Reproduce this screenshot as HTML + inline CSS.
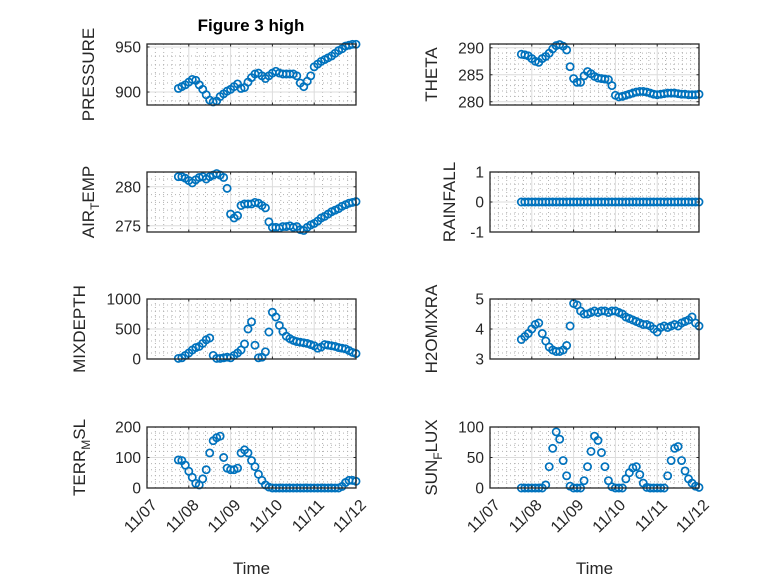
<!DOCTYPE html>
<html><head><meta charset="utf-8"><style>
html,body{margin:0;padding:0;background:#fff;}
svg{display:block;font-family:"Liberation Sans",sans-serif;}
</style></head><body>
<svg id="fig" width="778" height="583" viewBox="0 0 778 583" xmlns="http://www.w3.org/2000/svg">
<rect width="778" height="583" fill="#fff"/>
<text x="251" y="31" text-anchor="middle" font-size="17" font-weight="bold" fill="#000">Figure 3 high</text>
</svg>
<script>
const xTickLabels = ["11/07","11/08","11/09","11/10","11/11","11/12"];
const pressure = [904,906,908,911,914,913,908,903,897,891,889,890,895,898,901,903,906,909,904,905,911,916,920,921,918,915,918,921,923,921,920,920,920,920,918,910,906,912,918,928,931,934,936,938,940,943,946,948,951,952,953,953];
const theta = [288.8,288.7,288.5,288.0,287.5,287.3,288.0,288.4,289.0,289.8,290.4,290.6,290.3,289.6,286.5,284.3,283.6,283.6,284.8,285.6,285.2,284.7,284.4,284.3,284.2,284.1,283.0,281.2,280.9,281.0,281.2,281.4,281.6,281.8,281.9,281.9,281.8,281.6,281.4,281.3,281.4,281.5,281.6,281.6,281.6,281.5,281.4,281.4,281.3,281.3,281.3,281.4];
const airTemp = [281.3,281.3,281.1,280.8,280.5,280.9,281.2,281.3,281.0,281.3,281.5,281.7,281.5,281.2,279.8,276.5,276.0,276.3,277.6,277.8,277.8,277.8,278.0,277.9,277.6,277.3,275.5,274.8,274.8,274.7,274.9,274.9,275.0,274.8,274.9,274.5,274.4,274.8,275.1,275.3,275.6,276.0,276.2,276.5,276.8,277.0,277.2,277.5,277.7,277.9,278.0,278.1];
const rainfall = [0,0,0,0,0,0,0,0,0,0,0,0,0,0,0,0,0,0,0,0,0,0,0,0,0,0,0,0,0,0,0,0,0,0,0,0,0,0,0,0,0,0,0,0,0,0,0,0,0,0,0,0];
const mixDepth = [10,20,60,100,150,190,210,260,320,350,60,10,10,20,30,20,60,100,150,250,500,620,230,20,30,120,450,780,700,560,460,380,340,310,290,280,270,260,240,220,180,200,240,230,220,210,190,180,170,140,110,90];
const h2oMix = [3.65,3.75,3.85,4.0,4.15,4.2,3.85,3.6,3.4,3.3,3.25,3.25,3.3,3.45,4.1,4.85,4.8,4.6,4.5,4.5,4.55,4.6,4.55,4.6,4.6,4.55,4.6,4.6,4.55,4.5,4.4,4.35,4.3,4.25,4.2,4.15,4.15,4.1,4.0,3.9,4.05,4.1,4.05,4.1,4.15,4.1,4.2,4.25,4.3,4.4,4.2,4.1];
const terrMsl = [92,90,75,55,35,15,10,30,60,115,155,165,170,100,65,60,60,65,115,125,115,90,70,45,25,10,3,0,0,0,0,0,0,0,0,0,0,0,0,0,0,0,0,0,0,0,0,5,18,25,25,22];
const sunFlux = [0,0,0,0,0,0,0,5,35,65,92,80,45,20,3,0,0,0,12,35,60,85,78,58,35,12,2,0,0,0,15,25,33,35,22,8,1,0,0,0,0,0,20,45,65,68,45,28,15,8,3,1];
const startDay = 0.75, stepDay = 2/24;

const NS="http://www.w3.org/2000/svg";
const svg=document.getElementById('fig');
function mk(tag,attrs,parent){const e=document.createElementNS(NS,tag);for(const k in attrs)e.setAttribute(k,attrs[k]);(parent||svg).appendChild(e);return e;}

const panels=[
 {name:'pressure',data:pressure,x0:147,x1:356,y0:44,y1:105,ymin:885.6,ymax:953.3,ticks:[900,950],minor:10,label:[['PRESSURE']],lx:94},
 {name:'theta',data:theta,x0:490,x1:699,y0:44,y1:105,ymin:279.4,ymax:290.7,ticks:[280,285,290],minor:1,label:[['THETA']],lx:437},
 {name:'air-temp',data:airTemp,x0:147,x1:356,y0:172,y1:232,ymin:274.2,ymax:281.9,ticks:[275,280],minor:1,label:[['AIR'],['T','sub'],['EMP']],lx:94},
 {name:'rainfall',data:rainfall,x0:490,x1:699,y0:172,y1:232,ymin:-1,ymax:1,ticks:[-1,0,1],minor:0.2,label:[['RAINFALL']],lx:455},
 {name:'mixdepth',data:mixDepth,x0:147,x1:356,y0:299,y1:359,ymin:0,ymax:1000,ticks:[0,500,1000],minor:100,label:[['MIXDEPTH']],lx:85},
 {name:'h2omixra',data:h2oMix,x0:490,x1:699,y0:299,y1:359,ymin:3,ymax:5,ticks:[3,4,5],minor:0.2,label:[['H2OMIXRA']],lx:437},
 {name:'terr-msl',data:terrMsl,x0:147,x1:356,y0:427,y1:488,ymin:0,ymax:200,ticks:[0,100,200],minor:20,label:[['TERR'],['M','sub'],['SL']],lx:85},
 {name:'sun-flux',data:sunFlux,x0:490,x1:699,y0:427,y1:488,ymin:0,ymax:100,ticks:[0,50,100],minor:10,label:[['SUN'],['F','sub'],['LUX']],lx:437}
];

panels.forEach((p,pi)=>{
 const g=mk('g',{});
 
 
 const xs=d=>p.x0+(d/5)*(p.x1-p.x0);
 const ys=v=>p.y1-(v-p.ymin)/(p.ymax-p.ymin)*(p.y1-p.y0);
 for(let k=1;k<25;k++){ if(k%5===0)continue; const x=xs(k*0.2);
  mk('line',{x1:x,x2:x,y1:p.y0,y2:p.y1,stroke:'#b0b0b0','stroke-width':1,'stroke-dasharray':'1 3'},g);}
 const m0=Math.ceil(p.ymin/p.minor);
 for(let k=m0;k*p.minor<=p.ymax;k++){const v=k*p.minor; if(p.ticks.some(t=>Math.abs(t-v)<1e-6))continue; const y=ys(v);
  mk('line',{x1:p.x0,x2:p.x1,y1:y,y2:y,stroke:'#b0b0b0','stroke-width':1,'stroke-dasharray':'1 3'},g);}
 for(let d=1;d<5;d++){const x=xs(d);mk('line',{x1:x,x2:x,y1:p.y0,y2:p.y1,stroke:'#dcdcdc','stroke-width':1},g);}
 p.ticks.forEach(t=>{const y=ys(t);mk('line',{x1:p.x0,x2:p.x1,y1:y,y2:y,stroke:'#dcdcdc','stroke-width':1},g);});
 p.data.forEach((v,i)=>{
  const c=mk('circle',{cx:xs(startDay+i*stepDay),cy:ys(v),r:3.6,fill:'none',stroke:'#0072BD','stroke-width':1.7},g);
  
  
 });
 mk('rect',{x:p.x0,y:p.y0,width:p.x1-p.x0,height:p.y1-p.y0,fill:'none',stroke:'#262626','stroke-width':1.3},g);
 for(let d=0;d<=5;d++){const x=xs(d);
  mk('line',{x1:x,x2:x,y1:p.y1,y2:p.y1-2.5,stroke:'#262626'},g);
  mk('line',{x1:x,x2:x,y1:p.y0,y2:p.y0+2.5,stroke:'#262626'},g);}
 p.ticks.forEach(t=>{const y=ys(t);
  mk('line',{x1:p.x0,x2:p.x0+2.5,y1:y,y2:y,stroke:'#262626'},g);
  mk('line',{x1:p.x1,x2:p.x1-2.5,y1:y,y2:y,stroke:'#262626'},g);
  const tl=mk('text',{x:p.x0-6,y:y+5.5,'text-anchor':'end','font-size':15.5,fill:'#262626'},g);
  tl.textContent=String(t);
  
  
 });
 const cy=(p.y0+p.y1)/2;
 const yl=mk('text',{x:0,y:0,'text-anchor':'middle','font-size':17,fill:'#262626',transform:`translate(${p.lx},${cy}) rotate(-90)`},g);
 
 
 p.label.forEach(part=>{const ts=mk('tspan',{},yl);ts.textContent=part[0];
  if(part[1]==='sub'){ts.setAttribute('font-size','12');ts.setAttribute('dy','5');}
  else if(yl.childNodes.length>1){ts.setAttribute('dy','-5');}
 });
 if(pi>=6){
  xTickLabels.forEach((s,d)=>{const x=xs(d);
   const t=mk('text',{x:0,y:0,'text-anchor':'end','font-size':16,fill:'#262626',transform:`translate(${x+11},${p.y1+18}) rotate(-45)`},g);
   t.textContent=s;
   
   
  });
  const xt=mk('text',{x:(p.x0+p.x1)/2,y:574,'text-anchor':'middle','font-size':17,fill:'#262626'},g);
  xt.textContent='Time';
  
  
 }
});
</script>
</body></html>
